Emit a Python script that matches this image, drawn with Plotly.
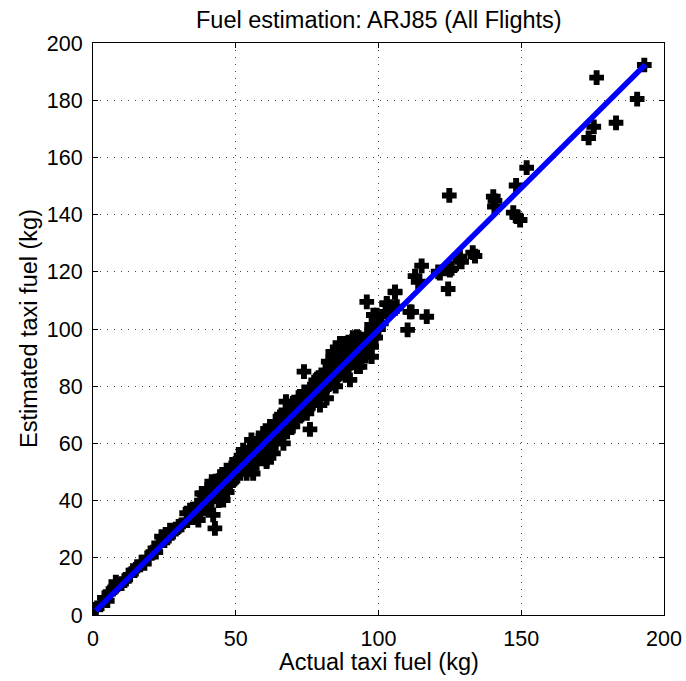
import plotly.graph_objects as go

# Data (actual vs estimated taxi fuel, kg)
actual = [1, 3, 4, 5, 6, 7, 8, 8, 10, 11, 13, 14, 15, 17, 18, 19, 21, 21.7, 22, 23, 24, 25, 26, 27, 28, 29, 30, 31,
          32.8, 33, 34, 35, 36, 36.9, 37, 38, 38.1, 38.6, 39, 40, 40, 41, 41.6, 41.6, 42, 42.1, 42.7, 43, 43.3, 44,
          44.5, 44.5, 45, 45.6, 46, 46.8, 46.8, 47, 48, 48, 49, 49, 50, 50, 50.3, 50.3, 51, 51,
          52, 52, 52.6, 53, 53.8, 53.8, 54, 54, 55, 55, 55.5, 56, 56.1, 56, 57, 57.3, 57, 58, 58, 59, 59, 59.6,
          60, 60, 60.8, 60.8, 61, 61, 62, 62, 62, 63, 63.2, 63, 64, 64.3, 64, 65, 65.5, 65, 66, 66.7, 66, 67,
          67.6, 67.8, 68, 68, 69, 69, 70, 70, 70,
          71, 71.3, 72, 72, 73, 73.9, 74, 74.9, 74.9, 75, 76, 76, 77, 78, 78.4, 79, 79.5, 80, 80, 81, 81.8, 82,
          82.4, 82.4, 83, 83, 84, 84.2, 85, 85, 86, 86.5, 87, 87.7, 88, 88, 89, 90, 90, 90, 91, 92, 92.4, 92.4,
          93, 93.5, 94, 95, 95.9, 96, 97.6, 97.6, 97.6, 98, 98.2, 98.2, 99.4,
          100, 101, 102.9, 102.9, 102.9, 104, 105.8, 105.8, 105.8, 106.4, 110.2, 111, 111.6, 112.8, 113.9,
          115.1, 116.9, 120.9, 121.5, 124.4, 124.8, 125, 125.6, 128.5, 128.5, 129.1, 133, 133.8,
          140.2, 140.8, 140.6, 147.2, 148.4, 149.6, 148.2, 151.9, 173.6, 175.4, 176.4, 183.2, 190.6, 193.1,
          35, 36, 37, 38, 39, 40, 41, 42, 43, 44, 45, 46, 47, 48, 49, 50, 51, 52, 53, 54, 55, 56, 57, 58, 59,
          60, 61, 62, 63, 64, 65, 66, 67, 68, 69, 70, 71, 72, 73, 74, 75, 76, 77, 78, 79, 80, 81, 82, 83, 84,
          85, 86, 87, 88, 89, 90, 91, 92, 93, 94, 96, 99, 88, 84, 86, 91, 94, 79, 76, 73, 69, 66, 62, 58, 55,
          47, 44, 40]
estimated = [2, 4, 6, 5, 8, 9, 10, 11.5, 11, 12, 14, 15.5, 16, 18.5, 18, 20, 22, 23.3, 22, 25, 27.4, 26, 27, 29.7, 29, 30, 31, 31.5,
             35.6, 33, 36.7, 34, 37, 33.2, 38, 40, 42.5, 42.5, 39, 41, 43, 40, 45.5, 46.6, 42, 35, 30.3, 44, 41.4, 45,
             42.5, 48.4, 47, 40.2, 44, 47.2, 50.7, 48, 46, 50, 49, 52, 48, 51, 50.7, 54.2, 50, 53,
             51, 55, 57.7, 52, 49.5, 55.4, 54, 57, 53, 56, 61.2, 55, 49.5, 58, 56, 53, 60, 57, 59, 58, 61, 63.5,
             59, 62, 53.6, 54.2, 60, 63, 61, 64.7, 57, 62, 56.5, 65, 63, 67, 60, 64, 69.3, 67, 65, 60, 68, 66,
             74.6, 67, 69, 64, 68, 71, 69, 72, 66,
             70, 72.8, 71, 74, 72, 85.1, 75, 77.5, 70.5, 74, 64.9, 77, 76, 79, 79.3, 78, 73.4, 80, 82, 79, 75.8, 83,
             88.6, 83.9, 88, 84.5, 85, 90.3, 86, 80, 88, 95, 86, 84.5, 90, 92, 88, 82.2, 91, 94, 89, 95, 97.3, 86.8,
             92, 86.8, 94, 96, 109.5, 94, 93.8, 90.3, 101.4, 97, 104.9, 101.4, 104.9,
             100, 102, 109, 106, 108.7, 107.8, 112.8, 107.2, 113, 107.8, 99.7, 106, 106, 118.5, 116.5,
             122.1, 104.3, 120, 119.5, 114, 146.7, 120.6, 121.2, 124.1, 125.3, 123.5, 126.7, 125.5,
             146.3, 144.8, 142.8, 140.7, 139.3, 138.1, 150.2, 156.4, 166.8, 170.7, 187.9, 172.1, 180.4, 192.3,
             37, 35, 36, 37, 42, 39, 43, 44, 42, 47, 44, 48, 46, 49, 47, 53, 52, 53, 55, 52, 58, 57, 58, 61, 56,
             63, 58, 66, 64, 66, 62, 70, 64, 71, 66, 74, 68, 76, 70, 78, 72, 79, 74, 82, 76, 84, 82, 80, 86, 81,
             89, 84, 91, 85, 93, 88, 95, 90, 97, 91, 98, 97, 95, 92, 93, 97, 89, 83, 74, 76, 73, 63, 59, 55, 51,
             43, 40, 37]

fit_x = [1, 193.5]
fit_y = [1.5, 192.5]

tick_vals_x = [0, 50, 100, 150, 200]
tick_vals_y = [0, 20, 40, 60, 80, 100, 120, 140, 160, 180, 200]

FONT = "Liberation Sans, Arial, Helvetica, sans-serif"
L, R, T, B = 93, 22, 43, 66
W, H = 686, 681
PW, PH = W - L - R, H - T - B

fig = go.Figure()
fig.add_trace(go.Scatter(
    x=actual, y=estimated, mode="markers",
    marker=dict(symbol="cross", size=11, color="black", line=dict(width=1.5, color="black")),
    showlegend=False, hoverinfo="x+y",
))
fig.add_trace(go.Scatter(
    x=fit_x, y=fit_y, mode="lines",
    line=dict(color="#0000ff", width=5.5),
    showlegend=False,
))

axis_common = dict(
    showline=True, linecolor="black", linewidth=1, mirror="ticks",
    ticks="inside", ticklen=5, tickcolor="black",
    showgrid=True, gridcolor="#444444", gridwidth=1, griddash="1px,6px",
    zeroline=False, automargin=False,
    tickfont=dict(family=FONT, size=21.5, color="black"),
)

fig.update_layout(
    width=W, height=H,
    paper_bgcolor="white", plot_bgcolor="white",
    margin=dict(l=L, r=R, t=T, b=B),
    xaxis=dict(range=[0, 200], tickvals=tick_vals_x, ticklabelstandoff=4, **axis_common),
    yaxis=dict(range=[0, 200], tickvals=tick_vals_y, ticklabelstandoff=5, **axis_common),
    annotations=[
        dict(text="Fuel estimation: ARJ85 (All Flights)", xref="paper", yref="paper",
             x=0.5, y=1 + (T - 20) / PH, xanchor="center", yanchor="middle", showarrow=False,
             font=dict(family=FONT, size=23.5, color="black")),
        dict(text="Actual taxi fuel (kg)", xref="paper", yref="paper",
             x=0.5, y=-(662 - (H - B)) / PH, xanchor="center", yanchor="middle", showarrow=False,
             font=dict(family=FONT, size=23.5, color="black")),
        dict(text="Estimated taxi fuel (kg)", xref="paper", yref="paper",
             x=-(L - 29) / PW, y=0.5, xanchor="center", yanchor="middle", showarrow=False,
             textangle=-90, font=dict(family=FONT, size=23.5, color="black")),
    ],
)

fig.write_html(
    "out.html",
    config={"displayModeBar": False},
    post_script="document.body.style.margin='0';document.body.style.overflow='hidden';",
)
